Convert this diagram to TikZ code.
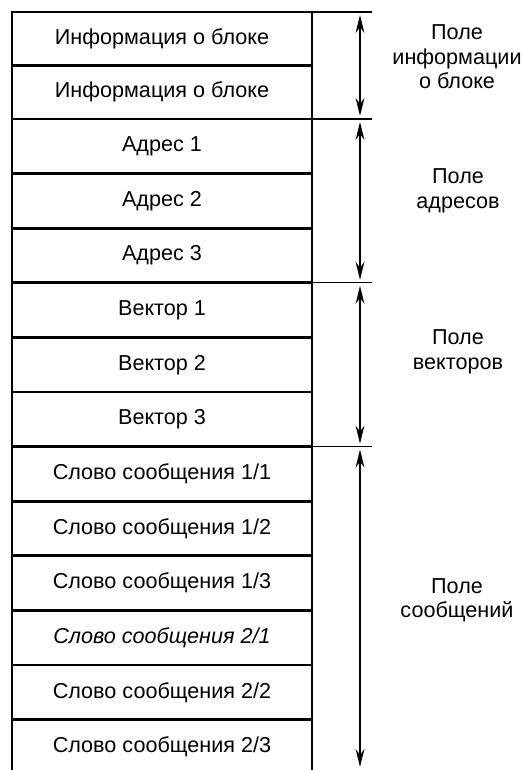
\documentclass[tikz,border=0pt]{standalone}
\usepackage{fontspec}
\setmainfont{Liberation Sans}
\usetikzlibrary{arrows.meta,positioning}

\begin{document}
\begin{tikzpicture}[x=0.5pt, y=-0.5pt,
    row/.style={draw, line width=1.4pt, outer sep=0pt, minimum width=150pt, minimum height=27.3pt,
        inner sep=0pt, font=\fontsize{10.8}{13}\selectfont},
    field/.style={align=center, font=\fontsize{10.8}{12.2}\selectfont},
    tick/.style={line width=0.6pt},
    span/.style={{Stealth[length=9pt,width=4.4pt,inset=3pt]}-{Stealth[length=9pt,width=4.4pt,inset=3pt]},
        line width=0.7pt}]
\useasboundingbox (0,0) rectangle (521,770);
\node[row, minimum height=26.75pt] (info1) at (162,38.75) {Информация о блоке};
\node[row, minimum height=26.75pt, below=0pt of info1] (info2) {Информация о блоке};
\node[row, below=0pt of info2] (addr1) {Адрес 1};
\node[row, below=0pt of addr1] (addr2) {Адрес 2};
\node[row, below=0pt of addr2] (addr3) {Адрес 3};
\node[row, below=0pt of addr3] (vec1) {Вектор 1};
\node[row, below=0pt of vec1] (vec2) {Вектор 2};
\node[row, below=0pt of vec2] (vec3) {Вектор 3};
\node[row, below=0pt of vec3] (msg1) {Слово сообщения 1/1};
\node[row, below=0pt of msg1] (msg2) {Слово сообщения 1/2};
\node[row, below=0pt of msg2] (msg3) {Слово сообщения 1/3};
\node[row, below=0pt of msg3] (msg4) {\itshape Слово сообщения 2/1};
\node[row, below=0pt of msg4] (msg5) {Слово сообщения 2/2};
\node[row, draw=none, below=0pt of msg5] (msg6) {Слово сообщения 2/3};
\draw[line width=1.4pt] (msg6.north west) -- (msg6.west |- 0,775);
\draw[line width=1.4pt] (msg6.north east) -- (msg6.east |- 0,775);
% field marks
\foreach \n in {info1,addr1,vec1,msg1}
    \draw[tick] (\n.north east) -- ++(60,0);
\draw[tick] (info2.south east) -- ++(60,0);
\coordinate (bottom) at (360,767);
\draw[span] ([xshift=24pt,yshift=-1.5pt]info1.north east) -- ([xshift=24pt,yshift=1.5pt]info2.south east);
\draw[span] ([xshift=24pt,yshift=-1.5pt]addr1.north east) -- ([xshift=24pt,yshift=1.5pt]addr3.south east);
\draw[span] ([xshift=24pt,yshift=-1.5pt]vec1.north east) -- ([xshift=24pt,yshift=1.5pt]vec3.south east);
\draw[span] ([xshift=24pt,yshift=-1.5pt]msg1.north east) -- (bottom);
\node[field] (infofield) at (457,57) {Поле\\информации\\о блоке};
\node[field] (addrfield) at (458,191) {Поле\\адресов};
\node[field] (vecfield) at (458,352) {Поле\\векторов};
\node[field] (msgfield) at (457,600) {Поле\\сообщений};
\end{tikzpicture}
\end{document}
